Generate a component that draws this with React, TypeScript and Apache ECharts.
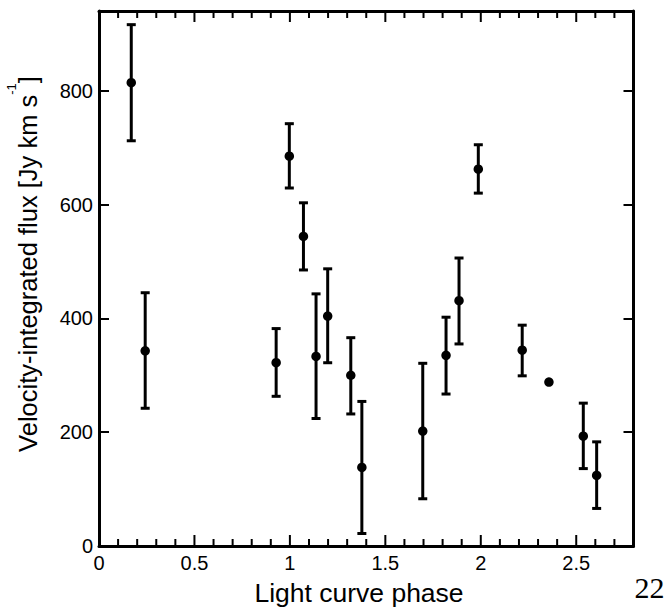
import React, { useEffect, useRef } from "react";
import * as echarts from "echarts";

const phase = [0.169, 0.242, 0.928, 0.997, 1.071, 1.137, 1.198, 1.319, 1.377, 1.696, 1.818, 1.886, 1.987, 2.217, 2.357, 2.537, 2.607];
const flux = [814, 343, 322, 685, 544, 333, 404, 300, 138, 202, 335, 431, 662, 344, 288, 193, 124];
const errLow: (number | null)[] = [712, 242, 263, 629, 485, 224, 322, 232, 22, 83, 267, 355, 620, 299, null, 136, 66];
const errHigh: (number | null)[] = [916, 445, 382, 742, 603, 443, 487, 366, 254, 321, 402, 506, 705, 388, null, 251, 183];

const X_MIN = 0;
const X_MAX = 2.8;
const Y_MIN = 0;
const Y_MAX = 940;

const xMajorTicks = [0, 0.5, 1, 1.5, 2, 2.5];
const xMinorTicks = [0.1, 0.2, 0.3, 0.4, 0.6, 0.7, 0.8, 0.9, 1.1, 1.2, 1.3, 1.4, 1.6, 1.7, 1.8, 1.9, 2.1, 2.2, 2.3, 2.4, 2.6, 2.7];

const xTitle = "Light curve phase";
const yTitleMain = "Velocity-integrated flux [Jy km s";
const yTitleSup = "-1";
const yTitleEnd = "]";
const pageNumber = "22";

const FONT = "'Liberation Sans', Arial, Helvetica, sans-serif";

export default function App() {
  const ref = useRef<HTMLDivElement>(null);
  useEffect(() => {
    if (!ref.current) return;
    const chart = echarts.init(ref.current, undefined, { renderer: "svg" });
    const black = "#000000";
    const frameLine = () => ({ show: true, onZero: false, lineStyle: { color: black, width: 3 } });
    const majorTick = (len: number) => ({ show: true, inside: true, length: len, lineStyle: { color: black, width: 2 } });
    const isHalf = (v: number) => Math.abs(v * 2 - Math.round(v * 2)) < 1e-6;

    const baseX = () => ({ type: "value", min: X_MIN, max: X_MAX, interval: 0.5, splitLine: { show: false } });
    const baseY = () => ({ type: "value", min: Y_MIN, max: Y_MAX, interval: 200, splitLine: { show: false } });

    const errData = phase
      .map((p, i) => [p, errLow[i], errHigh[i]])
      .filter((d) => d[1] != null && d[2] != null);

    const tickData = [
      ...xMajorTicks.map((v) => [v, 400, 11]),
      ...xMinorTicks.map((v) => [v, 400, 7]),
    ];

    chart.setOption({
      animation: false,
      backgroundColor: "#fff",
      grid: { left: 99, top: 11, width: 534.5, height: 535, outerBoundsMode: "none", containLabel: false },
      xAxis: [
        {
          ...baseX(),
          position: "bottom",
          axisLine: frameLine(),
          axisTick: { show: false },
          axisLabel: {
            show: true,
            color: black,
            fontSize: 20,
            fontFamily: FONT,
            margin: 7,
            showMaxLabel: false,
            formatter: (v: number) => (isHalf(v) ? String(Math.round(v * 10) / 10) : ""),
          },
        },
        {
          ...baseX(),
          position: "top",
          axisLine: frameLine(),
          axisTick: { show: false },
          axisLabel: { show: false },
        },
      ],
      yAxis: [
        {
          ...baseY(),
          position: "left",
          axisLine: frameLine(),
          axisTick: majorTick(10),
          axisLabel: {
            show: true,
            color: black,
            fontSize: 20,
            fontFamily: FONT,
            margin: 6,
            showMaxLabel: false,
            formatter: (v: number) => (v % 200 === 0 ? String(v) : ""),
          },
        },
        {
          ...baseY(),
          position: "right",
          axisLine: frameLine(),
          axisTick: majorTick(10),
          axisLabel: { show: false },
        },
      ],
      series: [
        {
          type: "custom",
          xAxisIndex: 0,
          yAxisIndex: 0,
          data: tickData,
          encode: { x: 0, y: 1 },
          clip: false,
          silent: true,
          z: 10,
          renderItem: (params: any, api: any) => {
            const v = api.value(0);
            const len = api.value(2);
            const b = api.coord([v, Y_MIN]);
            const t = api.coord([v, Y_MAX]);
            const style = { stroke: black, lineWidth: 2 };
            return {
              type: "group",
              children: [
                { type: "line", shape: { x1: b[0], y1: b[1], x2: b[0], y2: b[1] - len }, style },
                { type: "line", shape: { x1: t[0], y1: t[1], x2: t[0], y2: t[1] + len }, style },
              ],
            };
          },
        },
        {
          type: "custom",
          xAxisIndex: 0,
          yAxisIndex: 0,
          data: errData,
          encode: { x: 0, y: [1, 2] },
          z: 2,
          renderItem: (params: any, api: any) => {
            const x = api.value(0);
            const lo = api.coord([x, api.value(1)]);
            const hi = api.coord([x, api.value(2)]);
            const hw = 4.5;
            const style = { stroke: black, lineWidth: 3 };
            return {
              type: "group",
              children: [
                { type: "line", shape: { x1: lo[0], y1: lo[1], x2: hi[0], y2: hi[1] }, style },
                { type: "line", shape: { x1: lo[0] - hw, y1: lo[1], x2: lo[0] + hw, y2: lo[1] }, style },
                { type: "line", shape: { x1: hi[0] - hw, y1: hi[1], x2: hi[0] + hw, y2: hi[1] }, style },
              ],
            };
          },
        },
        {
          type: "scatter",
          xAxisIndex: 0,
          yAxisIndex: 0,
          data: phase.map((p, i) => [p, flux[i]]),
          symbol: "circle",
          symbolSize: 9.5,
          itemStyle: { color: black, opacity: 1 },
          z: 3,
        },
      ],
      graphic: [
        {
          type: "text",
          x: 359,
          y: 592.5,
          style: {
            text: xTitle,
            fill: black,
            font: `26.5px ${FONT}`,
            align: "center",
            verticalAlign: "middle",
          },
        },
        {
          type: "text",
          x: 28,
          y: 264,
          rotation: Math.PI / 2,
          style: {
            text: `{a|${yTitleMain}}{b|${yTitleSup}}{a|${yTitleEnd}}`,
            fill: black,
            align: "center",
            verticalAlign: "middle",
            rich: {
              a: { fontSize: 25.5, fontFamily: FONT, lineHeight: 46, verticalAlign: "middle", fill: black },
              b: { fontSize: 13, fontFamily: FONT, lineHeight: 13, verticalAlign: "top", fill: black },
            },
          },
        },
        {
          type: "text",
          x: 649.5,
          y: 587.5,
          style: {
            text: pageNumber,
            fill: black,
            font: `30px 'Liberation Serif', 'DejaVu Serif', serif`,
            align: "center",
            verticalAlign: "middle",
          },
        },
      ],
    });
    return () => chart.dispose();
  }, []);
  return (
    <div
      ref={ref}
      style={{ position: "fixed", left: 0, top: 0, width: 667, height: 608, background: "#fff" }}
    />
  );
}
